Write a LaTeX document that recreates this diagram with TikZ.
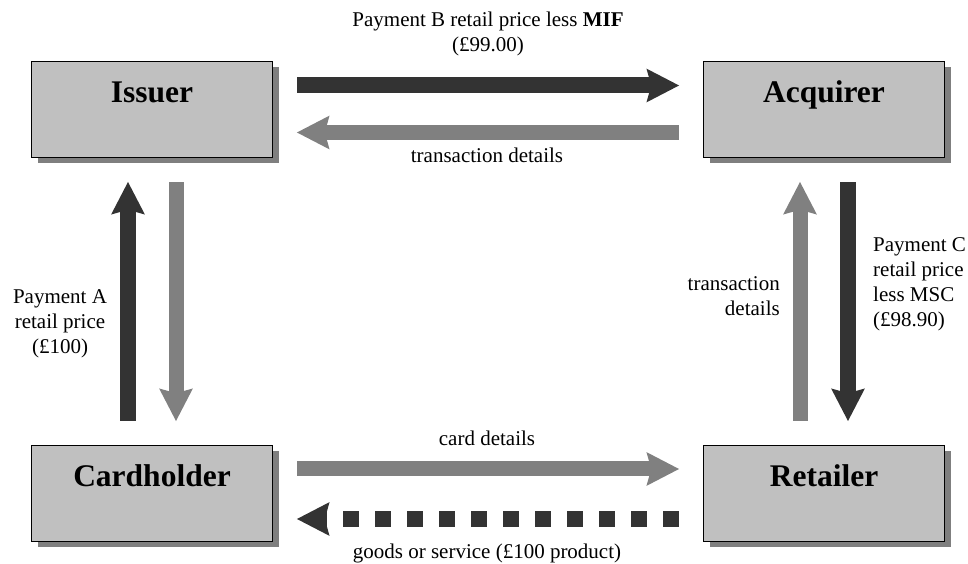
\documentclass[tikz,border=0pt]{standalone}
\usepackage{fontspec}
\setmainfont{Liberation Serif}
\usetikzlibrary{arrows.meta,shadows}
\definecolor{darkarrow}{HTML}{333333}
\definecolor{grayarrow}{HTML}{808080}
\definecolor{boxfill}{HTML}{C0C0C0}
\definecolor{shadowgray}{HTML}{7F7F7F}

\begin{document}
\begin{tikzpicture}[x=1pt,y=1pt,
  party/.style={draw=black, line width=1.5pt, fill=boxfill,
    minimum width=241pt, minimum height=96pt, inner sep=0pt,
    text height=22pt, text depth=36pt,
    font=\fontsize{31.5}{36}\selectfont\bfseries,
    drop shadow={shadow xshift=6pt, shadow yshift=-6pt, fill=shadowgray, opacity=1}},
  flow/.style={-{Stealth[length=32pt,width=32pt,inset=4pt]},
    shorten <=24pt, shorten >=23.5pt},
  money/.style={flow, draw=darkarrow, line width=16pt},
  info/.style={flow, draw=grayarrow, line width=15pt},
  lbl/.style={font=\fontsize{21}{25}\selectfont, inner sep=0pt}
]
\useasboundingbox (0,0) rectangle (968,564);

% the four parties
\node[party] (iss)  at (152,454.5) {Issuer};
\node[party] (acq)  at (824,454.5) {Acquirer};
\node[party] (card) at (152,70.5)  {Cardholder};
\node[party] (ret)  at (824,70.5)  {Retailer};

% issuer <-> acquirer
\draw[money] ([yshift=24pt]iss.east) -- ([yshift=24pt]acq.west);
\draw[info]  ([yshift=-23pt]acq.west) -- ([yshift=-23pt]iss.east);

% cardholder <-> retailer
\draw[info]  ([yshift=24.5pt]card.east) -- ([yshift=24.5pt]ret.west);
\draw[money, dash pattern=on 16pt off 16pt]
  ([yshift=-25.5pt]ret.west) -- ([yshift=-25.5pt]card.east);

% cardholder <-> issuer
\draw[money] ([xshift=-24pt]card.north) -- ([xshift=-24pt]iss.south);
\draw[info]  ([xshift=24pt]iss.south) -- ([xshift=24pt]card.north);

% retailer <-> acquirer
\draw[info]  ([xshift=-24pt]ret.north) -- ([xshift=-24pt]acq.south);
\draw[money] ([xshift=24pt]acq.south) -- ([xshift=24pt]ret.north);

% flow labels
\node[lbl, align=center] (payB) at (488,530)
  {Payment B retail price less \textbf{MIF}\\(£99.00)};
\node[lbl] (txA) at (487,409) {transaction details};
\node[lbl] (cardd) at (487,126) {card details};
\node[lbl] (goods) at (487,11) {goods or service (£100 product)};
\node[lbl, align=center] (payA) at (60,240) {Payment A\\retail price\\(£100)};
\node[lbl, align=right, anchor=east] (txB) at (780,267.5) {transaction\\details};
\node[lbl, align=left, anchor=west] (payC) at (873,280)
  {Payment C\\retail price\\less MSC\\(£98.90)};
\end{tikzpicture}
\end{document}
